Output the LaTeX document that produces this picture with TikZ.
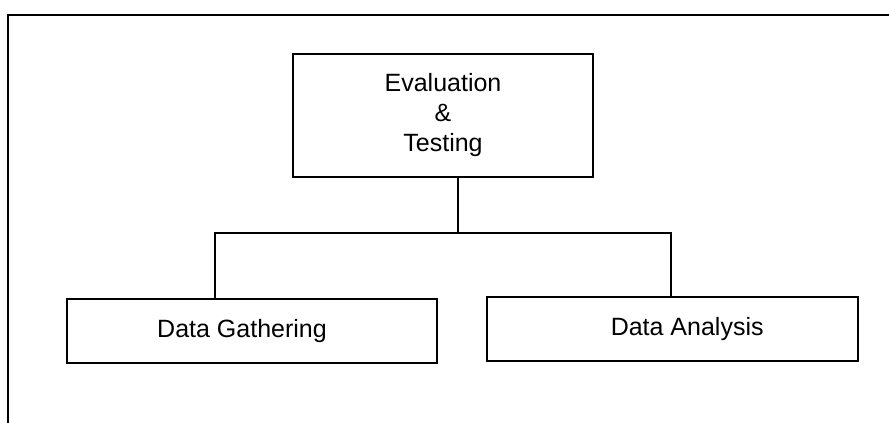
\documentclass[tikz,border=0pt]{standalone}
\usepackage{fontspec}
\setmainfont{Liberation Sans}
\usepackage{tikz}

\begin{document}
\begin{tikzpicture}[x=0.75pt, y=-0.75pt, line width=2pt, font=\fontsize{18.75}{22.5}\selectfont]
\tikzstyle{block} = [draw, rectangle, inner sep=0pt, outer sep=0pt, minimum height=48pt]
\tikzstyle{frame} = [draw, line width=2.2pt]

    % page area and the outer frame (cut off at right and bottom)
    \clip (0,0) rectangle (889,423);
    \fill[white] (0,0) rectangle (889,423);
    \draw[frame] (8,15) rectangle (900,440);

    % the three blocks
    \node [block, minimum width=225pt, minimum height=92.25pt, align=center] (eval) at (443,115.5) {Evaluation\\\&\\Testing};
    \node [block, minimum width=277.5pt] (gather) at (252,331) {\hspace*{-15pt}Data Gathering};
    \node [block, minimum width=278.25pt] (analysis) at (672.5,329) {\hspace*{22pt}Data Analysis};

    % junction points of the tree
    \coordinate (split) at (458,233);
    \coordinate (lsplit) at (215,233);
    \coordinate (rsplit) at (671,233);

    \draw (eval.south -| split) -- (split);
    \draw (gather.north -| lsplit) -- (lsplit) -- (rsplit) -- (analysis.north -| rsplit);

\end{tikzpicture}
\end{document}
